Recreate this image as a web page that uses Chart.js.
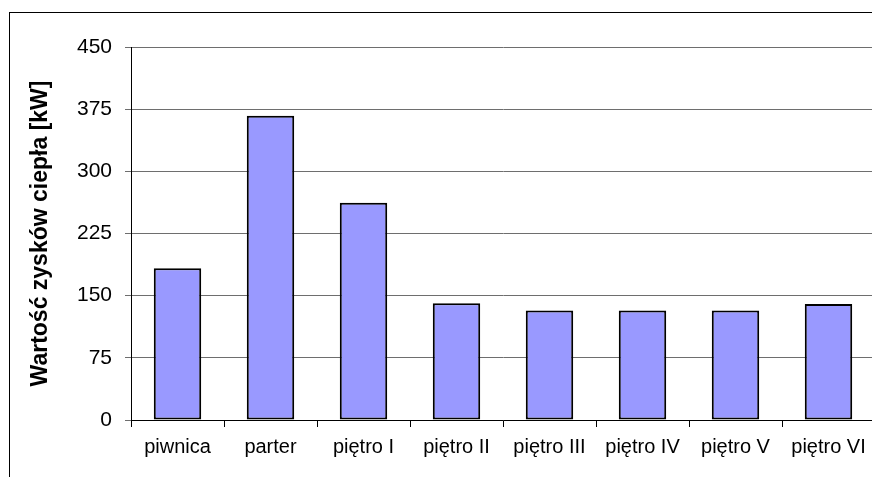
<!DOCTYPE html>
<html>
<head>
<meta charset="utf-8">
<script src="https://cdn.jsdelivr.net/npm/chart.js@4.4.3/dist/chart.umd.min.js"></script>
<style>
  html, body { margin: 0; padding: 0; background: #fff; overflow: hidden; }
  #wrap { position: relative; width: 872px; height: 477px; overflow: hidden; }
  #frame { position: absolute; left: 9px; top: 12px; width: 1000px; height: 1000px; border: 1px solid #000; }
  #c { position: absolute; left: 0; top: 0; }
</style>
</head>
<body>
<div id="wrap">
  <div id="frame"></div>
  <canvas id="c" width="880" height="477"></canvas>
</div>
<script>
/* dane wykresu */
const floors = ['piwnica', 'parter', 'piętro I', 'piętro II', 'piętro III', 'piętro IV', 'piętro V', 'piętro VI'];
const heatGains = [183, 367, 262, 141, 132, 132, 132, 140];
const yMax = 450;
const yStep = 75;

const FONT = '"Liberation Sans", Arial, sans-serif';

new Chart(document.getElementById('c'), {
  type: 'bar',
  data: {
    labels: floors,
    datasets: [{
      data: heatGains,
      backgroundColor: '#9999FF',
      borderColor: '#000',
      borderWidth: 2,
      borderSkipped: false,
      barPercentage: 0.51,
      categoryPercentage: 1
    }]
  },
  options: {
    responsive: false,
    animation: false,
    layout: { padding: { top: 47, right: 5, left: 0, bottom: 0 } },
    plugins: { legend: { display: false }, tooltip: { enabled: false } },
    scales: {
      x: {
        afterFit: s => { s.height = 57; },
        grid: { display: true, drawOnChartArea: false, offset: true, tickLength: 7, color: '#000' },
        border: { color: '#000', width: 1 },
        ticks: { color: '#000', font: { family: FONT, size: 20 }, padding: 8, maxRotation: 0 }
      },
      y: {
        min: 0, max: yMax,
        afterFit: s => { s.width = 131; },
        grid: { color: '#6e6e6e', tickLength: 6, lineWidth: 1 },
        border: { color: '#000', width: 1 },
        ticks: { stepSize: yStep, color: '#000', font: { family: FONT, size: 21 }, padding: 13 },
        title: {
          display: true,
          text: 'Wartość zysków ciepła [kW]',
          color: '#000',
          font: { family: FONT, size: 23, weight: 'bold' },
          padding: { top: 27, bottom: 0 }
        }
      }
    }
  }
});
</script>
</body>
</html>
